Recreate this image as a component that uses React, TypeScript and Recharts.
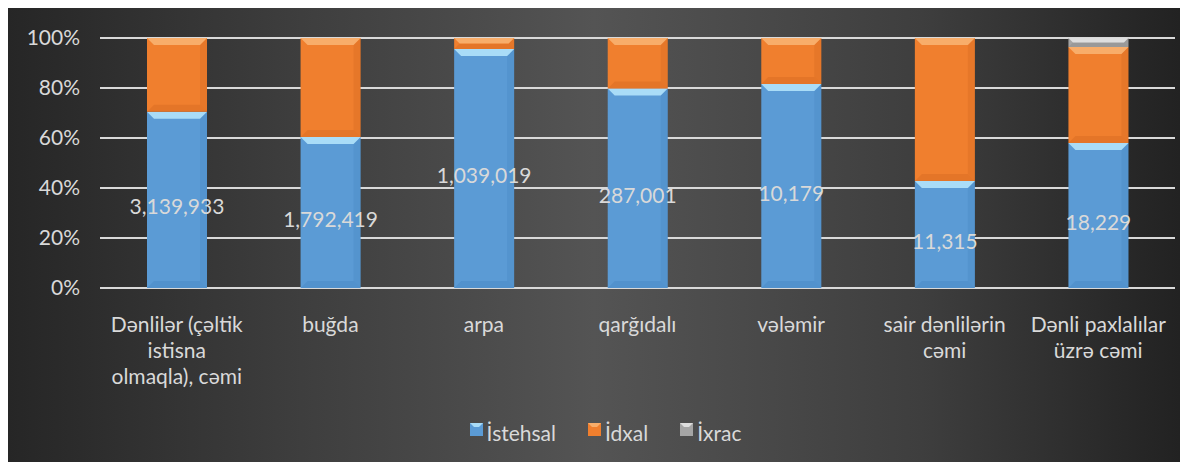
import React from "react";
import { BarChart, Bar, XAxis, YAxis, CartesianGrid, LabelList, Legend } from "recharts";

const categories = [
  "Dənlilər (çəltik\nistisna\nolmaqla), cəmi",
  "buğda",
  "arpa",
  "qarğıdalı",
  "vələmir",
  "sair dənlilərin\ncəmi",
  "Dənli paxlalılar\nüzrə cəmi",
];

// shares in percent
const istehsal = [70.5, 60.4, 95.6, 79.8, 81.6, 42.8, 58.0];
const idxal = [29.5, 39.6, 4.4, 20.2, 18.4, 57.2, 38.4];
const ixrac = [0, 0, 0, 0, 0, 0, 3.6];

// absolute production figures shown on the blue segments
const istehsalLabels = ["3,139,933", "1,792,419", "1,039,019", "287,001", "10,179", "11,315", "18,229"];

const yTicks = [0, 20, 40, 60, 80, 100];

const series = [
  { key: "istehsal", name: "İstehsal", fill: "#5b9bd5", light: "#a9dcf7", dark: "#3f7fbd" },
  { key: "idxal", name: "İdxal", fill: "#f07f2e", light: "#f8ad6a", dark: "#c9601c" },
  { key: "ixrac", name: "İxrac", fill: "#a5a5a5", light: "#dedede", dark: "#7e7e7e" },
];

const data = categories.map((name, i) => ({
  name,
  istehsal: istehsal[i],
  idxal: idxal[i],
  ixrac: ixrac[i],
}));

const FONT = "Lato, 'Open Sans', sans-serif";
const TEXT = "#d9d9d9";

function makeBevel(fill: string, light: string, dark: string) {
  return (props: any) => {
    const { x, y, width, height } = props;
    if (!height || height <= 0) return <g />;
    const b = Math.min(7, height / 2);
    return (
      <g>
        <rect x={x} y={y} width={width} height={height} fill={fill} />
        <polygon points={`${x + width},${y} ${x + width - b},${y + b} ${x + width - b},${y + height - b} ${x + width},${y + height}`} fill={dark} opacity={0.25} />
        <polygon points={`${x},${y + height} ${x + b},${y + height - b} ${x + width - b},${y + height - b} ${x + width},${y + height}`} fill={dark} opacity={0.3} />
        <polygon points={`${x},${y} ${x + width},${y} ${x + width - b},${y + b} ${x + b},${y + b}`} fill={light} />
      </g>
    );
  };
}

function CategoryTick(props: any) {
  const { x, y, payload } = props;
  const lines = String(payload.value).split("\n");
  return (
    <text x={x} y={y + 36} textAnchor="middle" fill={TEXT} fontSize={21} fontFamily={FONT}>
      {lines.map((l, i) => (
        <tspan key={i} x={x} dy={i === 0 ? 0 : 26}>
          {l}
        </tspan>
      ))}
    </text>
  );
}

function ValueLabel(props: any) {
  const { x, y, width, height, index } = props;
  return (
    <text
      x={x + width / 2}
      y={y + height / 2 + 6}
      textAnchor="middle"
      dominantBaseline="central"
      fill={TEXT}
      fontSize={21}
      fontFamily={FONT}
    >
      {istehsalLabels[index]}
    </text>
  );
}

function LegendContent() {
  return (
    <div style={{ display: "flex", justifyContent: "center", gap: 32, fontFamily: FONT, fontSize: 21, color: TEXT, marginLeft: 28 }}>
      {series.map((s) => (
        <div key={s.key} style={{ display: "flex", alignItems: "center" }}>
          <svg width={13} height={13} style={{ marginRight: 4, marginTop: -6 }}>
            <rect x={0} y={0} width={13} height={13} fill={s.fill} />
            <polygon points="0,0 13,0 9,4 4,4" fill={s.light} />
          </svg>
          <span>{s.name}</span>
        </div>
      ))}
    </div>
  );
}

export default function App() {
  return (
    <div
      style={{
        width: 1172,
        height: 454,
        background: "linear-gradient(to right, #262626 0%, #3e3e3e 25%, #545454 50%, #3e3e3e 78%, #222 100%)",
      }}
    >
      <BarChart
        width={1172}
        height={454}
        data={data}
        barSize={60}
        margin={{ top: 30, right: 5, left: 0, bottom: 17 }}
      >
        <CartesianGrid vertical={false} stroke="#d9d9d9" strokeWidth={2} />
        <XAxis
          dataKey="name"
          axisLine={false}
          tickLine={false}
          interval={0}
          height={132}
          tick={<CategoryTick />}
        />
        <YAxis
          domain={[0, 100]}
          ticks={yTicks}
          axisLine={false}
          tickLine={false}
          width={92}
          tickMargin={14}
          tickFormatter={(v) => `${v}%`}
          tick={{ fill: TEXT, fontSize: 21, fontFamily: FONT }}
        />
        <Legend verticalAlign="bottom" content={<LegendContent />} />
        {series.map((s) => (
          <Bar
            key={s.key}
            dataKey={s.key}
            name={s.name}
            stackId="a"
            fill={s.fill}
            isAnimationActive={false}
            shape={makeBevel(s.fill, s.light, s.dark)}
          >
            {s.key === "istehsal" && <LabelList dataKey="istehsal" content={<ValueLabel />} />}
          </Bar>
        ))}
      </BarChart>
    </div>
  );
}
